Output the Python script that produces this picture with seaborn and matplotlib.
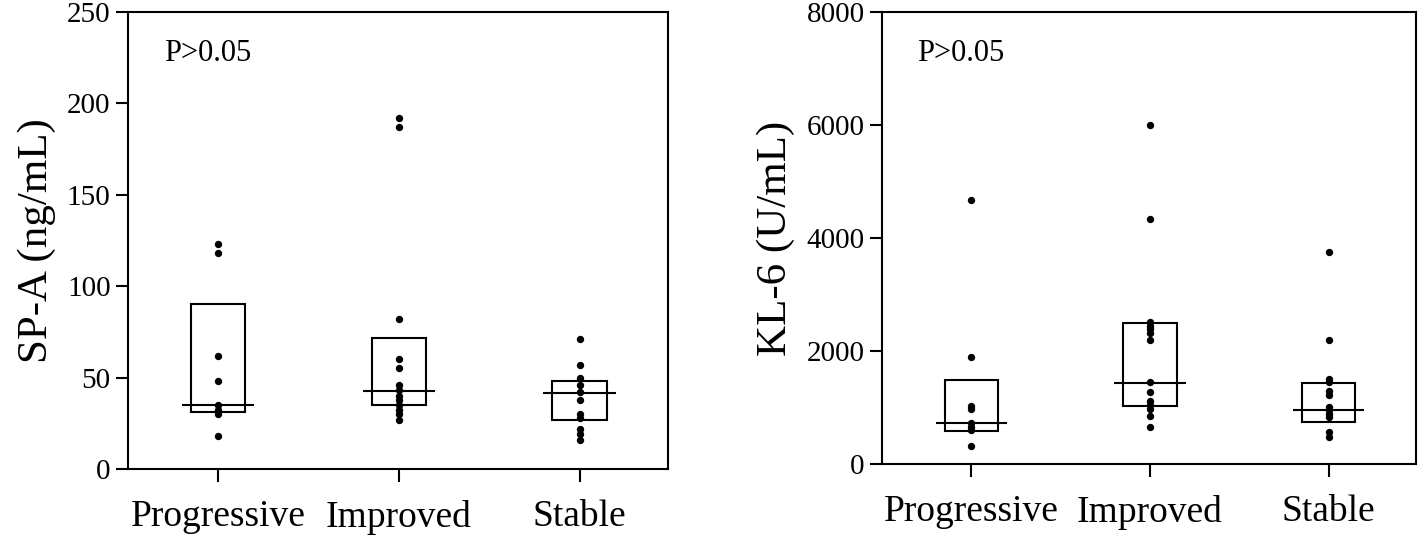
import numpy as np
import pandas as pd
import seaborn as sns
import matplotlib.pyplot as plt

groups = ['Progressive', 'Improved', 'Stable']

# SP-A (ng/mL)
spa_prog = [123, 118, 62, 48, 35, 32, 30, 18]
spa_impr = [192, 187, 82, 60, 55, 46, 43, 40, 38, 35, 32, 30, 27]
spa_stab = [71, 57, 50, 46, 42, 38, 30, 28, 22, 19, 16]
spa_q1 = [31, 35, 27]
spa_med = [35, 42.5, 41.7]
spa_q3 = [90.5, 71.5, 48]

# KL-6 (U/mL)
kl6_prog = [4680, 1900, 1020, 970, 730, 660, 600, 320]
kl6_impr = [6000, 4340, 2510, 2450, 2390, 2320, 2190, 1450, 1280, 1120, 1050, 980, 850, 650]
kl6_stab = [3750, 2200, 1510, 1450, 1290, 1220, 1010, 950, 890, 830, 570, 480]
kl6_q1 = [590, 1030, 745]
kl6_med = [730, 1440, 965]
kl6_q3 = [1495, 2500, 1427]

sns.set_style('ticks', {'axes.edgecolor': 'black', 'text.color': 'black',
                        'xtick.color': 'black', 'ytick.color': 'black',
                        'axes.labelcolor': 'black'})
plt.rcParams['font.family'] = ['Liberation Serif', 'DejaVu Serif']
plt.rcParams['axes.linewidth'] = 1.5


def long_df(a, b, c):
  return pd.DataFrame({
    'group': [groups[0]] * len(a) + [groups[1]] * len(b) + [groups[2]] * len(c),
    'value': list(a) + list(b) + list(c),
  })


def panel(ax, df, q1, med, q3, ylim, yticks, ylabel):
  x = np.arange(len(groups))
  ax.bar(x, np.array(q3) - np.array(q1), bottom=q1, width=0.3,
         fill=False, edgecolor='black', linewidth=1.5, zorder=2)
  ax.hlines(med, x - 0.2, x + 0.2, color='black', linewidth=1.5, zorder=3)
  sns.stripplot(data=df, x='group', y='value', order=groups, jitter=False,
                color='black', size=5.3, ax=ax, zorder=4)
  ax.set_xlim(-0.5, 2.49)
  ax.set_ylim(*ylim)
  ax.set_yticks(yticks)
  ax.set_xlabel('')
  ax.set_ylabel(ylabel, fontsize=31, labelpad=8)
  ax.tick_params(axis='y', labelsize=21, length=9, width=1.5)
  ax.tick_params(axis='x', labelsize=27, length=9, width=1.5, pad=13)
  ax.text(0.066, 0.94, 'P>0.05', transform=ax.transAxes, fontsize=22,
          va='top', ha='left', color='black')
  for s in ax.spines.values():
    s.set_visible(True)
    s.set_linewidth(1.5)
    s.set_color('black')


fig = plt.figure(figsize=(14.18, 5.4), dpi=100)
ax1 = fig.add_axes([0.0903, 0.1315, 0.3808, 0.8463])
ax2 = fig.add_axes([0.622, 0.1407, 0.3766, 0.837])

panel(ax1, long_df(spa_prog, spa_impr, spa_stab), spa_q1, spa_med, spa_q3,
      (0, 250), [0, 50, 100, 150, 200, 250], 'SP-A (ng/mL)')
panel(ax2, long_df(kl6_prog, kl6_impr, kl6_stab), kl6_q1, kl6_med, kl6_q3,
      (0, 8000), [0, 2000, 4000, 6000, 8000], 'KL-6 (U/mL)')

plt.savefig('out.png', dpi=100)
plt.close()
